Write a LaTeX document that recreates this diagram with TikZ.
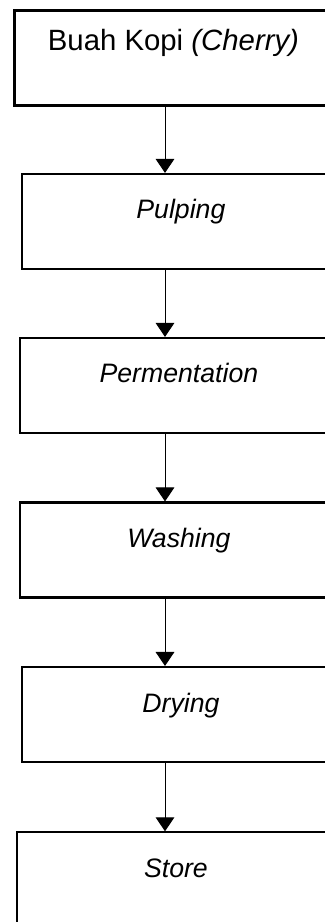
\documentclass[tikz,border=0pt]{standalone}
\usepackage{fontspec}
\setmainfont{Liberation Sans}
\usetikzlibrary{arrows.meta,positioning}

\begin{document}
\begin{tikzpicture}[
      proses/.style={rectangle,draw,line width=1.6pt,inner sep=0pt,
        minimum width=238.5pt,text height=33.75pt,text depth=37.5pt,
        font=\fontsize{20}{24}\selectfont\itshape},
      panah/.style={-{Triangle[width=14pt,length=10.5pt]},line width=0.75pt}]
    \useasboundingbox (0,0) rectangle (243.75pt,-691.5pt);
    \coordinate (ax) at (123.75pt,0);

    \node[proses,font=\fontsize{22}{26}\selectfont,text height=29.6pt,text depth=41.6pt](n0) at (130.1pt,-43.5pt){Buah Kopi \textit{(Cherry)}};
    \node[proses,below of=n0,node distance=122.6pt,xshift=5.6pt](n1){Pulping};
    \node[proses,below of=n1,node distance=123pt,xshift=-1.5pt](n2){Permentation};
    \node[proses,below of=n2,node distance=123.4pt](n3){Washing};
    \node[proses,below of=n3,node distance=123.4pt,xshift=1.5pt](n4){Drying};
    \node[proses,below of=n4,node distance=124pt,xshift=-3.75pt](n5){Store};

    \draw[panah] (n0.south -| ax) -- (n1.north -| ax);
    \draw[panah] (n1.south -| ax) -- (n2.north -| ax);
    \draw[panah] (n2.south -| ax) -- (n3.north -| ax);
    \draw[panah] (n3.south -| ax) -- (n4.north -| ax);
    \draw[panah] (n4.south -| ax) -- (n5.north -| ax);

\end{tikzpicture}
\end{document}
